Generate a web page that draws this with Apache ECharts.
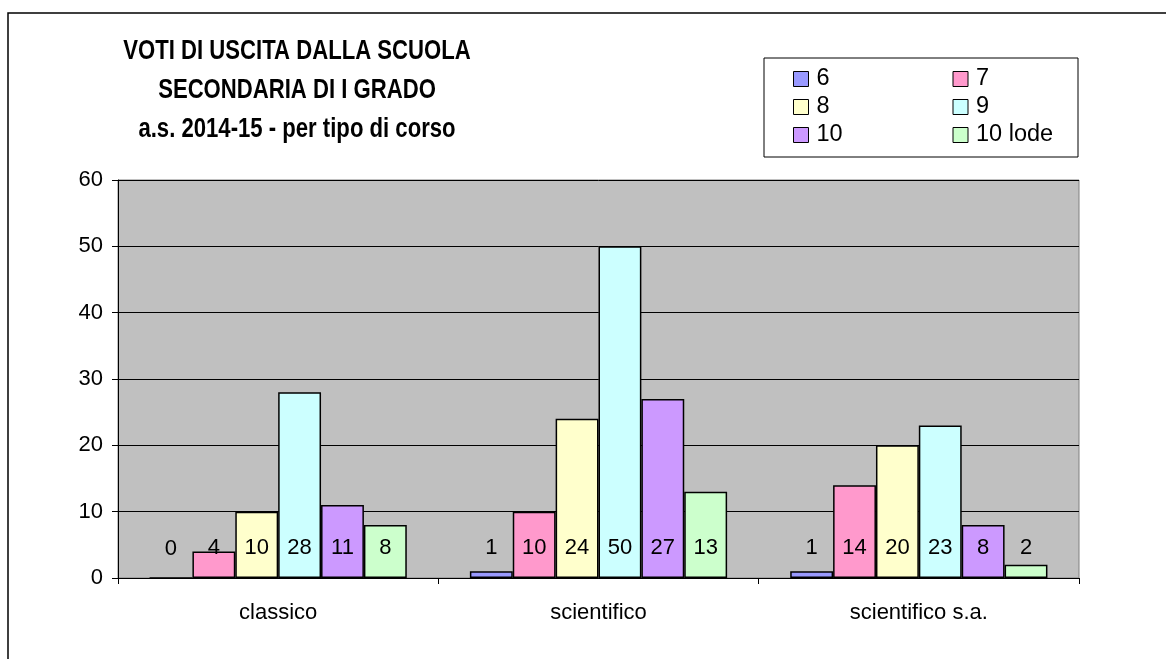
<!DOCTYPE html>
<html>
<head>
<meta charset="utf-8">
<title>Voti di uscita</title>
<script src="https://cdn.jsdelivr.net/npm/echarts@6/dist/echarts.min.js"></script>
<style>
  html, body { margin: 0; padding: 0; background: #fff; }
  #main { width: 1166px; height: 659px; }
</style>
</head>
<body>
<div id="main"></div>
<script>
// categorie (tipo di corso) e voti
var categories = ['classico', 'scientifico', 'scientifico s.a.'];
var voto6 = [0, 1, 1];
var voto7 = [4, 10, 14];
var voto8 = [10, 24, 20];
var voto9 = [28, 50, 23];
var voto10 = [11, 27, 8];
var voto10lode = [8, 13, 2];
var yTicks = [0, 10, 20, 30, 40, 50, 60];
var titleText = 'VOTI DI USCITA DALLA SCUOLA\nSECONDARIA DI I GRADO\na.s. 2014-15 - per tipo di corso';

var seriesNames = ['6', '7', '8', '9', '10', '10 lode'];
var seriesData = [voto6, voto7, voto8, voto9, voto10, voto10lode];
var colors = ['#9999FF', '#FF99CC', '#FFFFCC', '#CCFFFF', '#CC99FF', '#CCFFCC'];

var font = "'Liberation Sans', Arial, sans-serif";

var chart = echarts.init(document.getElementById('main'));

var series = [];
for (var i = 0; i < seriesNames.length; i++) {
  series.push({
    name: seriesNames[i],
    type: 'bar',
    data: seriesData[i],
    barGap: 0,
    barCategoryGap: '19.7%',
    itemStyle: {
      color: colors[i],
      borderColor: '#000',
      borderWidth: 1.5
    },
    label: {
      show: true,
      position: 'insideBottom',
      distance: 19,
      color: '#000',
      fontSize: 22,
      fontFamily: font
    },
    emphasis: { disabled: true }
  });
}

var option = {
  animation: false,
  color: colors,
  legend: {
    left: 793,
    top: 67,
    width: 320,
    padding: 0,
    itemGap: 4,
    itemWidth: 15,
    itemHeight: 15,
    icon: 'rect',
    itemStyle: { borderColor: '#000', borderWidth: 1 },
    textStyle: {
      fontFamily: font,
      fontSize: 23.5,
      color: '#000',
      lineHeight: 23.5,
      width: 132,
      padding: [0, 0, 0, 3]
    },
    data: seriesNames
  },
  graphic: [
    {
      // cornice esterna
      type: 'rect',
      shape: { x: 8, y: 13, width: 1300, height: 800 },
      style: { fill: 'none', stroke: '#000', lineWidth: 1.5 },
      silent: true
    },
    {
      // riquadro legenda
      type: 'rect',
      shape: { x: 764, y: 58, width: 314, height: 99 },
      style: { fill: 'none', stroke: '#000', lineWidth: 1 },
      silent: true
    },
    {
      // titolo (carattere stretto)
      type: 'text',
      x: 297,
      y: 32,
      scaleX: 0.79,
      silent: true,
      style: {
        text: titleText,
        textAlign: 'center',
        textVerticalAlign: 'top',
        font: 'bold 28px ' + font,
        lineHeight: 39,
        fill: '#000'
      }
    }
  ],
  grid: {
    left: 118,
    right: 87,
    top: 180,
    bottom: 81,
    show: true,
    backgroundColor: '#C0C0C0',
    borderColor: '#808080',
    borderWidth: 1
  },
  xAxis: {
    type: 'category',
    data: categories,
    axisLine: { show: true, lineStyle: { color: '#000', width: 1 } },
    axisTick: { show: true, length: 6, lineStyle: { color: '#000' } },
    axisLabel: {
      margin: 24,
      color: '#000',
      fontSize: 22,
      fontFamily: font
    },
    splitLine: { show: false }
  },
  yAxis: {
    type: 'value',
    min: yTicks[0],
    max: yTicks[yTicks.length - 1],
    interval: 10,
    axisLine: { show: true, lineStyle: { color: '#000', width: 1 } },
    axisTick: { show: true, length: 6, lineStyle: { color: '#000' } },
    axisLabel: {
      margin: 15,
      color: '#000',
      fontSize: 22,
      fontFamily: font
    },
    splitLine: { show: true, lineStyle: { color: '#000', width: 1 } }
  },
  series: series
};

chart.setOption(option);
</script>
</body>
</html>
